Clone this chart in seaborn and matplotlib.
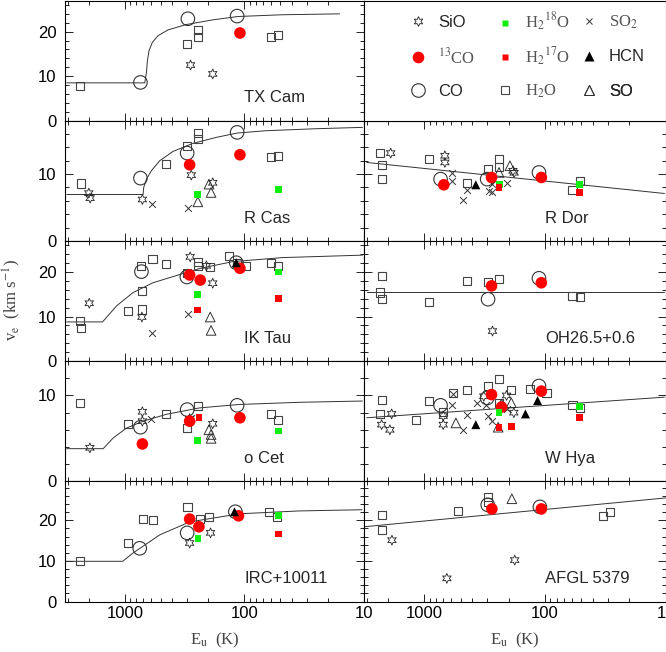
import matplotlib
matplotlib.use("Agg")
import matplotlib.pyplot as plt
from matplotlib.lines import Line2D
from matplotlib.ticker import MultipleLocator, LogLocator, FuncFormatter, NullFormatter
import numpy as np
import pandas as pd
import seaborn as sns

# E_u (K) and v_e (km/s), one dict per star: species -> (E_u, v_e)
TX_CAM = {
    "H2O": ([2371, 301, 245, 245, 60, 52], [7.7, 17.25, 20.4, 18.75, 18.9, 19.3]),
    "CO": ([740, 297, 115], [8.6, 22.9, 23.5]),
    "13CO": ([109], [19.7]),
    "SiO": ([282, 184], [12.5, 10.5]),
}
TX_CAM_FIT_E = [3063, 681, 659, 647, 627, 588, 527, 435, 306, 184, 114, 48, 16]
TX_CAM_FIT_V = [8.5, 8.5, 10.9, 13.5, 15.75, 17.6, 19.1, 20.4, 21.6, 22.65, 23.4, 23.8, 24.0]

R_CAS = {
    "H2O": ([2340, 450, 301, 245, 245, 60, 52], [8.6, 11.5, 14.25, 16.1, 15.25, 12.5, 12.7]),
    "SO2": ([587, 297], [5.6, 5.0]),
    "SO": ([245, 198, 190], [5.85, 8.5, 7.25]),
    "SiO": ([2000, 1950, 713, 278, 184], [7.15, 6.4, 6.2, 9.85, 8.7]),
    "CO": ([740, 301, 115], [9.4, 13.15, 16.25]),
    "13CO": ([287, 109], [11.4, 12.9]),
    "H2-18O": ([245, 52], [7.0, 7.65]),
}
R_CAS_FIT_E = [3063, 703, 695, 659, 600, 511, 395, 270, 172, 115, 66, 25, 10.3]
R_CAS_FIT_V = [6.95, 6.95, 8.0, 9.25, 10.5, 12.0, 13.4, 14.6, 15.5, 16.15, 16.5, 16.8, 17.0]

IK_TAU = {
    "H2O": ([2371, 2340, 938, 726, 720, 720, 587, 450, 301, 245, 245, 193, 135, 116, 97, 60, 52],
            [9.0, 7.5, 11.25, 21.4, 15.75, 11.6, 22.9, 21.75, 19.7, 22.35, 21.4, 21.15, 23.6, 22.1,
             21.4, 22.0, 21.4]),
    "SO2": ([587, 297], [6.4, 10.5]),
    "SO": ([193, 190], [9.9, 6.9]),
    "SiO": ([1982, 720, 284, 208, 184], [13.0, 9.9, 23.4, 21.4, 17.5]),
    "CO": ([726, 303, 117], [20.1, 18.9, 22.1]),
    "13CO": ([287, 234, 109], [19.35, 18.2, 20.85]),
    "H2-18O": ([245, 52], [15.0, 20.0]),
    "H2-17O": ([245, 52], [11.5, 14.1]),
    "HCN": ([117], [22.1]),
}
IK_TAU_FIT_E = [3063, 1535, 1172, 853, 581, 306, 237, 125, 48, 10.3]
IK_TAU_FIT_V = [8.8, 8.8, 12.4, 15.4, 17.6, 19.9, 20.8, 22.35, 23.25, 23.8]

O_CET = {
    "H2O": ([2371, 938, 450, 301, 245, 60, 52], [9.15, 6.7, 7.8, 6.2, 8.8, 7.85, 7.1]),
    "SO2": ([600, 278], [7.2, 7.4]),
    "SO": ([198, 190, 190], [6.0, 5.45, 5.0]),
    "SiO": ([1958, 713, 713, 287, 184], [3.9, 8.1, 7.0, 7.3, 6.7]),
    "CO": ([740, 301, 115], [6.3, 8.35, 8.85]),
    "13CO": ([713, 287, 109], [4.35, 7.0, 7.4]),
    "H2-18O": ([245, 52], [4.75, 5.85]),
    "H2-17O": ([240], [7.45]),
}
O_CET_FIT_E = [3063, 1517, 1250, 968, 703, 450, 237, 110, 34.8, 10.3]
O_CET_FIT_V = [3.8, 3.8, 5.05, 6.2, 7.0, 7.8, 8.55, 8.95, 9.2, 9.35]

IRC_10011 = {
    "H2O": ([2371, 944, 708, 585, 299, 237, 196, 62, 53], [9.9, 14.4, 20.3, 20.1, 23.3, 20.3, 20.8, 22.1, 20.8]),
    "SiO": ([287, 192], [14.4, 16.9]),
    "CO": ([750, 301, 119], [13.1, 16.9, 22.1]),
    "13CO": ([287, 240, 112], [20.3, 18.4, 21.1]),
    "H2-18O": ([244, 52], [15.6, 21.1]),
    "H2-17O": ([52], [16.6]),
    "HCN": ([121], [22.1]),
}
IRC_10011_FIT_E = [3162, 1040, 858, 681, 511, 287, 110, 35, 10.4]
IRC_10011_FIT_V = [9.9, 9.9, 11.9, 13.9, 16.4, 19.6, 21.6, 22.3, 22.6]

R_DOR = {
    "H2O": ([2335, 2259, 2259, 910, 441, 296, 240, 240, 59, 51.5],
            [13.15, 11.35, 9.25, 12.25, 8.7, 10.75, 12.25, 11.0, 7.65, 9.0]),
    "SO2": ([584, 584, 482, 441, 290, 272, 272, 208], [10.15, 8.9, 6.1, 7.65, 7.5, 8.5, 7.25, 8.6]),
    "SO": ([240, 195], [10.25, 11.25]),
    "SiO": ([1900, 675, 675, 184, 180], [13.15, 12.75, 11.75, 10.5, 10.2]),
    "CO": ([733, 301, 112], [9.25, 9.25, 10.25]),
    "13CO": ([689, 277, 107], [8.4, 9.5, 9.5]),
    "H2-18O": ([237, 51.5], [8.4, 8.4]),
    "H2-17O": ([240, 51.5], [8.0, 7.25]),
    "HCN": ([374], [8.4]),
}
R_DOR_FIT_E = [3006, 10.2]
R_DOR_FIT_V = [11.75, 7.1]

OH26 = {
    "H2O": ([2259, 2335, 2259, 910, 441, 296, 240, 59, 51.5], [19.1, 15.4, 13.9, 13.3, 18.0, 17.85, 18.4, 14.6, 14.4]),
    "SiO": ([272], [6.75]),
    "CO": ([296, 112], [13.9, 18.6]),
    "13CO": ([277, 107], [16.9, 17.6]),
}
OH26_FIT_E = [3006, 10.2]
OH26_FIT_V = [15.6, 15.6]

W_HYA = {
    "H2O": ([2259, 2335, 1175, 910, 697, 575, 441, 296, 240, 240, 190, 134, 97, 59, 51.5],
            [9.5, 7.8, 7.1, 9.4, 8.1, 10.3, 10.6, 11.1, 11.9, 9.15, 10.6, 10.8, 10.3, 8.85, 8.55]),
    "SO2": ([575, 584, 441, 482, 369, 309, 296, 272, 208], [10.2, 8.85, 7.7, 6.0, 9.15, 8.9, 7.6, 7.0, 8.4]),
    "SO": ([547, 244, 190, 229], [6.8, 6.3, 9.15, 9.0]),
    "SiO": ([1866, 2259, 1929, 697, 697, 321, 208, 181], [7.85, 6.6, 6.0, 7.6, 6.6, 9.9, 10.0, 8.0]),
    "CO": ([733, 301, 112], [8.85, 9.7, 11.1]),
    "13CO": ([277, 229, 107], [10.1, 8.65, 10.5]),
    "H2-18O": ([240, 51.5], [8.0, 8.75]),
    "H2-17O": ([240, 190, 51.5], [6.3, 6.4, 7.4]),
    "HCN": ([374, 145, 115], [6.6, 7.85, 9.4]),
}
W_HYA_FIT_E = [3006, 10.2]
W_HYA_FIT_V = [7.4, 9.8]

AFGL_5379 = {
    "H2O": ([2245, 2245, 527, 298, 298, 29, 33], [21.3, 17.6, 22.3, 25.8, 24.6, 22.1, 21.1]),
    "SO": ([188], [25.3]),
    "SiO": ([1855, 650, 178], [15.1, 5.7, 10.2]),
    "CO": ([298, 110], [23.8, 23.3]),
    "13CO": ([275, 107], [22.8, 22.8]),
}
AFGL_5379_FIT_E = [3162, 10]
AFGL_5379_FIT_V = [18.4, 25.5]

STARS = ["TX Cam", "R Cas", "IK Tau", "o Cet", "IRC+10011", "R Dor", "OH26.5+0.6", "W Hya", "AFGL 5379"]
POINTS = [TX_CAM, R_CAS, IK_TAU, O_CET, IRC_10011, R_DOR, OH26, W_HYA, AFGL_5379]
FITS = [(TX_CAM_FIT_E, TX_CAM_FIT_V), (R_CAS_FIT_E, R_CAS_FIT_V), (IK_TAU_FIT_E, IK_TAU_FIT_V),
        (O_CET_FIT_E, O_CET_FIT_V), (IRC_10011_FIT_E, IRC_10011_FIT_V), (R_DOR_FIT_E, R_DOR_FIT_V),
        (OH26_FIT_E, OH26_FIT_V), (W_HYA_FIT_E, W_HYA_FIT_V), (AFGL_5379_FIT_E, AFGL_5379_FIT_V)]
# (row, column) of each star in the grid
GRID = [(0, 0), (1, 0), (2, 0), (3, 0), (4, 0), (1, 1), (2, 1), (3, 1), (4, 1)]
ROW_YMAX = [27, 18, 27, 14, 29.6]

# marker style per species
STYLE = {
    "H2O": dict(marker="s", s=34, facecolor="none", edgecolor="#444444", linewidth=0.8),
    "SO2": dict(marker="x", s=24, color="#333333", linewidth=0.7),
    "SO": dict(marker="^", s=48, facecolor="none", edgecolor="#333333", linewidth=0.7),
    "SiO": dict(marker=(6, 1, 0), s=50, facecolor="none", edgecolor="#222222", linewidth=0.6),
    "CO": dict(marker="o", s=95, facecolor="none", edgecolor="#333333", linewidth=0.8),
    "13CO": dict(marker="o", s=70, facecolor="#ff0000", edgecolor="none"),
    "H2-18O": dict(marker="s", s=24, facecolor="#11ee11", edgecolor="none"),
    "H2-17O": dict(marker="s", s=24, facecolor="#ff0000", edgecolor="none"),
    "HCN": dict(marker="^", s=42, facecolor="#000000", edgecolor="none"),
}
LABELS = {
    "SiO": "SiO", "13CO": r"$^{13}$CO", "CO": "CO",
    "H2-18O": r"H$_2$$^{18}$O", "H2-17O": r"H$_2$$^{17}$O", "H2O": r"H$_2$O",
    "SO2": r"SO$_2$", "HCN": "HCN", "SO": "SO",
}
SERIF_LABELS = {"13CO", "H2-18O", "H2-17O", "H2O", "SO2"}

rows = []
for star, d in zip(STARS, POINTS):
    for sp, (es, vs) in d.items():
        for e, v in zip(es, vs):
            rows.append((star, sp, e, v))
df = pd.DataFrame(rows, columns=["star", "species", "E", "v"])

sns.set_style("ticks", {"axes.edgecolor": "black", "xtick.color": "black", "ytick.color": "black"})
plt.rcParams["font.family"] = ["Liberation Sans", "DejaVu Sans"]
plt.rcParams["mathtext.fontset"] = "stix"
plt.rcParams["axes.linewidth"] = 0.8
SERIF = ["Liberation Serif", "DejaVu Serif"]

fig = plt.figure(figsize=(6.66, 6.52), dpi=100)
X_LEFT, X_MID, X_RIGHT = 65 / 666, 364 / 666, 665.5 / 666
Y_BOTTOM, Y_TOP = 1 - 601.5 / 652, 651.5 / 652
ROW_H = (Y_TOP - Y_BOTTOM) / 5


def style_axes(ax, row, col):
    ax.set_xlim(10 ** 3.5, 10)
    ax.set_ylim(0, ROW_YMAX[row])
    ax.xaxis.set_major_locator(LogLocator(base=10, subs=(1.0,)))
    ax.xaxis.set_minor_locator(LogLocator(base=10, subs=np.arange(2, 10)))
    ax.xaxis.set_major_formatter(FuncFormatter(lambda val, pos: f"{val:g}"))
    ax.xaxis.set_minor_formatter(NullFormatter())
    ax.yaxis.set_major_locator(MultipleLocator(10))
    ax.yaxis.set_minor_locator(MultipleLocator(2))
    ax.tick_params(which="both", direction="in", top=True, right=True, width=0.6,
                   labelsize=12, labelbottom=(row == 4), labelleft=(col == 0))
    ax.tick_params(which="major", length=6)
    ax.tick_params(which="minor", length=3)
    ax.tick_params(axis="x", pad=3)
    ax.tick_params(axis="y", pad=6)
    ax.set_xlabel("")
    ax.set_ylabel("")


for star, d, (fe, fv), (row, col) in zip(STARS, POINTS, FITS, GRID):
    x0 = X_LEFT if col == 0 else X_MID
    w = (X_MID - X_LEFT) if col == 0 else (X_RIGHT - X_MID)
    ax = fig.add_axes([x0, Y_TOP - (row + 1) * ROW_H, w, ROW_H])
    ax.set_xscale("log")
    sns.lineplot(x=fe, y=fv, ax=ax, color="#333333", linewidth=0.7, sort=False,
                 estimator=None, legend=False)
    for sp in STYLE:
        sub = df[(df["star"] == star) & (df["species"] == sp)]
        if sub.empty:
            continue
        sns.scatterplot(data=sub, x="E", y="v", ax=ax, legend=False, zorder=3, **STYLE[sp])
    style_axes(ax, row, col)
    ax.text(0.6, 0.19, star, transform=ax.transAxes, fontsize=12, va="center", ha="left")

# legend panel in the top-right cell
lax = fig.add_axes([X_MID, Y_TOP - ROW_H, X_RIGHT - X_MID, ROW_H])
lax.set_xticks([])
lax.set_yticks([])


def make_handle(sp):
    st = STYLE[sp]
    fc = st.get("facecolor", st.get("color"))
    ec = st.get("edgecolor", st.get("color"))
    return Line2D([], [], linestyle="none", marker=st["marker"], markersize=np.sqrt(st["s"]),
                  markerfacecolor=fc, markeredgecolor=ec, markeredgewidth=st.get("linewidth", 0.8))


# one legend entry per cell of a 3x3 layout, so all rows share the same pitch
LEGEND_COLS = [["SiO", "13CO", "CO"], ["H2-18O", "H2-17O", "H2O"], ["SO2", "HCN", "SO"]]
LEGEND_X = [0.151, 0.441, 0.718]
LEGEND_Y = [0.82, 0.53, 0.245]
for cols, lx in zip(LEGEND_COLS, LEGEND_X):
    for sp, ly in zip(cols, LEGEND_Y):
        leg = lax.legend(handles=[make_handle(sp)], labels=[LABELS[sp]],
                         loc="center left", bbox_to_anchor=(lx, ly), frameon=False, borderpad=0,
                         borderaxespad=0, handlelength=1.0, handletextpad=0.7, fontsize=12)
        t = leg.get_texts()[0]
        if sp in SERIF_LABELS:
            t.set_fontfamily(SERIF)
            t.set_color("#555555")
        lax.add_artist(leg)

fig.text(0.018, 0.54, r"v$_{\rm e}$  (km s$^{-1}$)", rotation=90, ha="center", va="center",
         fontsize=12, family=SERIF, color="#444444")
for xc in [(X_LEFT + X_MID) / 2, (X_MID + X_RIGHT) / 2]:
    fig.text(xc, 0.018, r"E$_{\rm u}$  (K)", ha="center", va="center", fontsize=12,
             family=SERIF, color="#444444")

fig.savefig("out.png", dpi=100)
